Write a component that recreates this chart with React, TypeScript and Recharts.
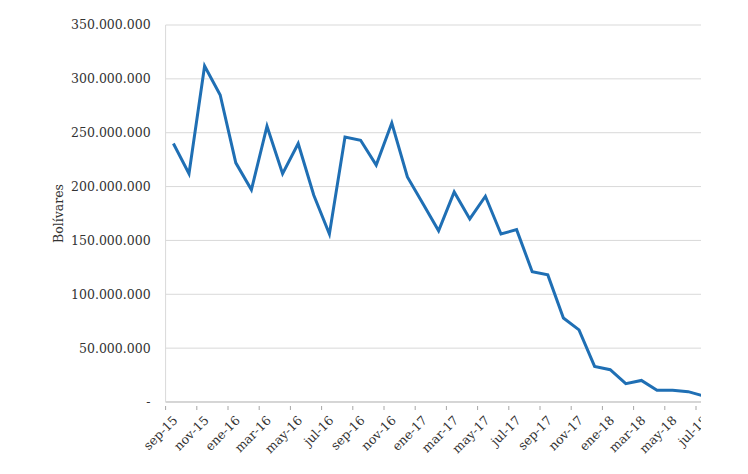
import { LineChart, Line, XAxis, YAxis, CartesianGrid } from "recharts";

const meses = [
  "sep-15", "oct-15", "nov-15", "dic-15", "ene-16", "feb-16", "mar-16", "abr-16",
  "may-16", "jun-16", "jul-16", "ago-16", "sep-16", "oct-16", "nov-16", "dic-16",
  "ene-17", "feb-17", "mar-17", "abr-17", "may-17", "jun-17", "jul-17", "ago-17",
  "sep-17", "oct-17", "nov-17", "dic-17", "ene-18", "feb-18", "mar-18", "abr-18",
  "may-18", "jun-18", "jul-18",
];

// millones de bolívares
const valores = [
  240, 212, 312, 285, 222, 197, 256, 212,
  240, 192, 156, 246, 243, 220, 259, 209,
  184, 159, 195, 170, 191, 156, 160, 121,
  118, 78, 67, 33, 30, 17, 20, 11,
  11, 9.6, 5.6,
];

const yTicks = [0, 50, 100, 150, 200, 250, 300, 350];

const data = meses.map((mes, i) => ({ mes, valor: valores[i] * 1000000 }));

const FONT = "'DejaVu Serif', serif";
const TEXT = "#333333";
const HALF_BAND = 7.8;

const fmt = (v: number) =>
  v === 0 ? "-" : Math.round(v).toString().replace(/\B(?=(\d{3})+(?!\d))/g, ".");

const MonthTick = (props: any) => {
  const { x, y, payload } = props;
  const tx = x + 5;
  const ty = y + 11;
  return (
    <g>
      <line x1={x - HALF_BAND} x2={x - HALF_BAND} y1={y} y2={y - 4} stroke="#a6a6a6" />
      <text
        x={tx}
        y={ty}
        textAnchor="end"
        fill={TEXT}
        fontFamily={FONT}
        fontSize={12.5}
        transform={`rotate(-45, ${tx}, ${ty})`}
      >
        {payload.value}
      </text>
    </g>
  );
};

export default function App() {
  return (
    <div style={{ width: 693, height: 466, overflow: "hidden" }}>
      <LineChart
        width={720}
        height={466}
        data={data}
        margin={{ top: 17, right: 16.4, left: 0, bottom: 0 }}
      >
        <CartesianGrid vertical={false} stroke="#d9d9d9" />
        <XAxis
          dataKey="mes"
          interval={1}
          tickLine={false}
          axisLine={{ stroke: "#bfbfbf" }}
          padding={{ left: HALF_BAND, right: HALF_BAND }}
          tick={<MonthTick />}
          height={72}
        />
        <YAxis
          width={157.6}
          domain={[0, 350000000]}
          ticks={yTicks.map((t) => t * 1000000)}
          tickFormatter={fmt}
          tickLine={false}
          tickSize={0}
          tickMargin={15}
          axisLine={{ stroke: "#d9d9d9" }}
          tick={{ fill: TEXT, fontFamily: FONT, fontSize: 12.5 }}
          label={{
            value: "Bolívares",
            angle: -90,
            content: (p: any) => {
              const cy = p.viewBox.y + p.viewBox.height / 2;
              return (
                <text
                  x={55}
                  y={cy}
                  textAnchor="middle"
                  fill={TEXT}
                  fontFamily={FONT}
                  fontSize={12.5}
                  transform={`rotate(-90, 55, ${cy})`}
                >
                  Bolívares
                </text>
              );
            },
          }}
        />
        <Line
          type="linear"
          dataKey="valor"
          stroke="#1f6fb4"
          strokeWidth={3}
          dot={false}
          isAnimationActive={false}
        />
      </LineChart>
    </div>
  );
}
